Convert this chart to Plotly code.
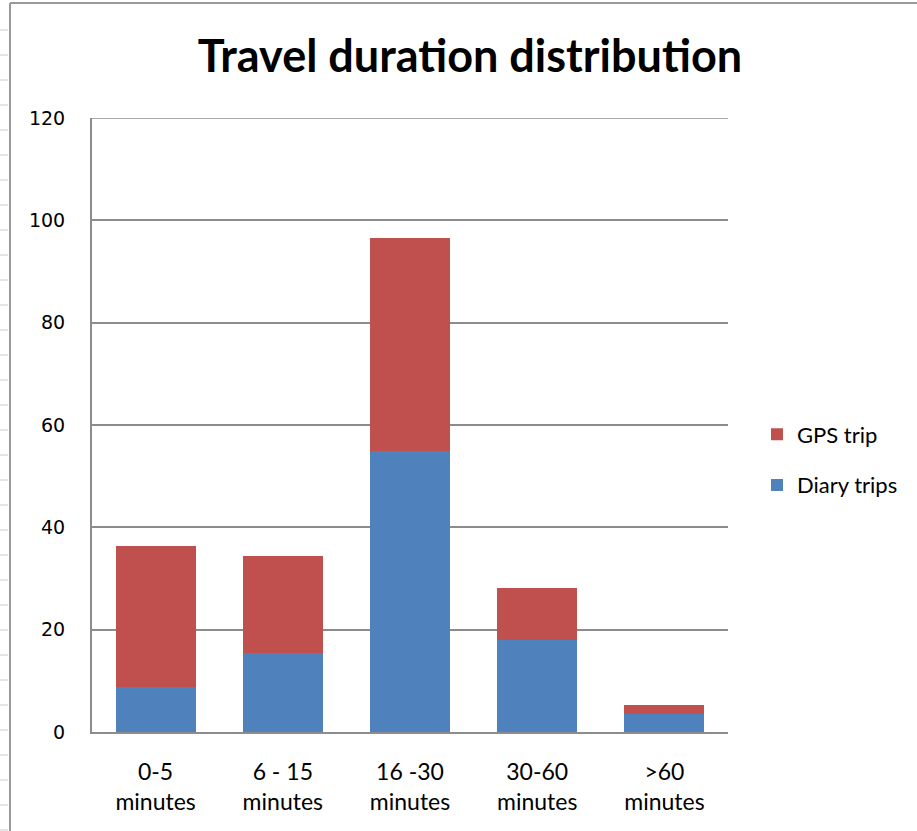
import plotly.graph_objects as go

categories = ["0-5<br>minutes", "6 - 15<br>minutes", "16 -30<br>minutes", "30-60<br>minutes", ">60<br>minutes"]
diary_trips = [8.8, 15.4, 54.9, 18.0, 3.5]
gps_trip = [27.6, 19.0, 41.6, 10.1, 1.8]
y_ticks = [0, 20, 40, 60, 80, 100, 120]

W, H = 917, 831
L, R, T, B = 92, 728, 118, 732

fig = go.Figure()
fig.add_trace(go.Bar(x=categories, y=diary_trips, name="Diary trips", legendgroup="d", legendrank=2,
                     marker=dict(color="#4F81BD", line=dict(width=0))))
fig.add_trace(go.Bar(x=categories, y=gps_trip, name="GPS trip", legendgroup="g", legendrank=1,
                     marker=dict(color="#C0504D", line=dict(width=0))))

def px_x(p):
    return (p - L) / (R - L)

def px_y(p):
    return (B - p) / (B - T)

shapes = []
# chart-area border (left and top) like the spreadsheet frame
shapes.append(dict(type="line", xref="paper", yref="paper", x0=px_x(10), x1=px_x(10),
                   y0=px_y(3), y1=px_y(831), line=dict(color="#9a9a9a", width=2)))
shapes.append(dict(type="line", xref="paper", yref="paper", x0=px_x(10), x1=px_x(917),
                   y0=px_y(3), y1=px_y(3), line=dict(color="#9a9a9a", width=2)))
for yy in range(30, 831, 25):
    shapes.append(dict(type="line", xref="paper", yref="paper", x0=px_x(0), x1=px_x(8),
                       y0=px_y(yy), y1=px_y(yy), line=dict(color="#c8ccd8", width=1)))
# top gridline at the axis maximum
shapes.append(dict(type="line", xref="paper", yref="y", x0=0, x1=1, y0=y_ticks[-1], y1=y_ticks[-1],
                   line=dict(color="#8c8c8c", width=1.5)))

fig.update_layout(
    width=W, height=H,
    margin=dict(l=L, r=W - R, t=T, b=H - B, pad=0),
    barmode="stack",
    bargap=0.37,
    paper_bgcolor="white",
    plot_bgcolor="white",
    title=dict(text="<b>Travel duration distribution</b>", x=470 / W, xanchor="center",
               y=1 - 56 / H, yanchor="middle",
               font=dict(family="Lato", size=45, color="black")),
    legend=dict(x=px_x(757), xanchor="left", y=px_y(460), yanchor="middle",
                traceorder="grouped", font=dict(family="Lato", size=22, color="black"),
                itemwidth=30, tracegroupgap=19, bgcolor="rgba(0,0,0,0)"),
    shapes=shapes,
    showlegend=True,
)
fig.update_xaxes(showline=True, linecolor="#8c8c8c", linewidth=2, mirror=False,
                 tickfont=dict(family="Lato", size=23, color="black"),
                 ticks="outside", ticklen=18, tickcolor="rgba(0,0,0,0)", showgrid=False)
fig.update_yaxes(range=[0, 120], tickvals=y_ticks, showline=True, linecolor="#8c8c8c",
                 linewidth=2, gridcolor="#8c8c8c", gridwidth=1.5, zeroline=False,
                 tickfont=dict(family="DejaVu Sans", size=19, color="black"),
                 ticks="outside", ticklen=21, tickcolor="rgba(0,0,0,0)")

fig.write_html("out.html")
